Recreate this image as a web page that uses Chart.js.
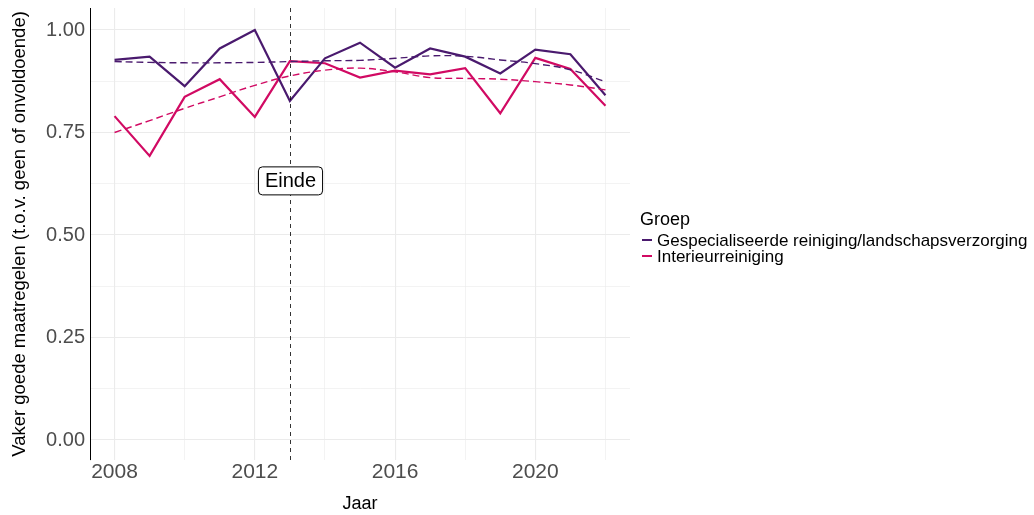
<!DOCTYPE html>
<html>
<head>
<meta charset="utf-8">
<script src="https://cdn.jsdelivr.net/npm/chart.js@4/dist/chart.umd.min.js"></script>
<style>
    html, body { margin: 0; padding: 0; background: #fff; }
    #wrap { width: 1034px; height: 515px; position: relative; }
</style>
</head>
<body>
<div id="wrap"><canvas id="trendChart" width="1034" height="515"></canvas></div>
<script>
// Data
const years = [2008, 2009, 2010, 2011, 2012, 2013, 2014, 2015, 2016, 2017, 2018, 2019, 2020, 2021, 2022];
const groups = ['Gespecialiseerde reiniging/landschapsverzorging', 'Interieurreiniging'];
const specialValues = [0.927, 0.935, 0.863, 0.955, 1.000, 0.827, 0.931, 0.969, 0.908, 0.955, 0.935, 0.894, 0.952, 0.941, 0.841];
const interiorValues = [0.790, 0.693, 0.837, 0.880, 0.788, 0.924, 0.919, 0.884, 0.901, 0.892, 0.907, 0.797, 0.932, 0.905, 0.815];
const specialTrend = [0.923, 0.921, 0.920, 0.920, 0.921, 0.923, 0.925, 0.926, 0.931, 0.937, 0.936, 0.927, 0.918, 0.903, 0.874];
const interiorTrend = [0.750, 0.779, 0.809, 0.837, 0.865, 0.888, 0.902, 0.907, 0.898, 0.884, 0.882, 0.880, 0.874, 0.866, 0.854];
const yTicks = [0, 0.25, 0.5, 0.75, 1];
const xTicks = [2008, 2012, 2016, 2020];
const endYear = 2013;
const endLabel = 'Einde';

// Colours
const purple = '#4a1a6e';
const pink = '#d10a63';
const fontFamily = '"Liberation Sans", Arial, sans-serif';

const toPoints = (vals) => vals.map((v, i) => ({ x: years[i], y: v }));

// Vertical line + label + legend
const extrasPlugin = {
    id: 'extras',
    afterDatasetsDraw(chart) {
        const { ctx, scales: { x, y } } = chart;
        const px = Math.round(x.getPixelForValue(endYear)) + 0.5;
        ctx.save();
        ctx.strokeStyle = '#000';
        ctx.lineWidth = 0.8;
        ctx.setLineDash([4, 4]);
        ctx.beginPath();
        ctx.moveTo(px, chart.chartArea.top);
        ctx.lineTo(px, chart.chartArea.bottom);
        ctx.stroke();
        ctx.setLineDash([]);

        // label box
        const ly = y.getPixelForValue(0.632);
        ctx.font = '20px ' + fontFamily;
        const tw = ctx.measureText(endLabel).width;
        const bw = tw + 13, bh = 28;
        const bx = px - bw / 2, by = ly - bh / 2;
        ctx.fillStyle = '#fff';
        ctx.strokeStyle = '#000';
        ctx.lineWidth = 1;
        ctx.beginPath();
        ctx.roundRect(bx, by, bw, bh, 4);
        ctx.fill();
        ctx.stroke();
        ctx.fillStyle = '#000';
        ctx.textAlign = 'center';
        ctx.textBaseline = 'middle';
        ctx.fillText(endLabel, px, ly + 1);

        // legend
        ctx.textAlign = 'left';
        ctx.textBaseline = 'alphabetic';
        ctx.font = '18px ' + fontFamily;
        ctx.fillText('Groep', 640, 225);
        ctx.font = '17px ' + fontFamily;
        [purple, pink].forEach((c, i) => {
            const yy = 240 + i * 16;
            ctx.strokeStyle = c;
            ctx.lineWidth = 2;
            ctx.beginPath();
            ctx.moveTo(642, yy);
            ctx.lineTo(652, yy);
            ctx.stroke();
            ctx.fillStyle = '#000';
            ctx.fillText(groups[i], 657, yy + 5.5);
        });
        ctx.restore();
    }
};

const ctx = document.getElementById('trendChart').getContext('2d');
const trendChart = new Chart(ctx, {
    type: 'line',
    data: {
        datasets: [
            {
                label: groups[0] + ' trend',
                data: toPoints(specialTrend),
                borderColor: purple,
                borderWidth: 1.4,
                borderDash: [7, 4],
                pointRadius: 0,
                tension: 0.4,
                fill: false
            },
            {
                label: groups[1] + ' trend',
                data: toPoints(interiorTrend),
                borderColor: pink,
                borderWidth: 1.4,
                borderDash: [7, 4],
                pointRadius: 0,
                tension: 0.4,
                fill: false
            },
            {
                label: groups[0],
                data: toPoints(specialValues),
                borderColor: purple,
                borderWidth: 2.2,
                pointRadius: 0,
                tension: 0,
                fill: false
            },
            {
                label: groups[1],
                data: toPoints(interiorValues),
                borderColor: pink,
                borderWidth: 2.2,
                pointRadius: 0,
                tension: 0,
                fill: false
            }
        ]
    },
    options: {
        responsive: false,
        animation: false,
        events: [],
        layout: { padding: { top: 8, right: 404, left: 0, bottom: 0 } },
        plugins: {
            legend: { display: false },
            tooltip: { enabled: false }
        },
        scales: {
            x: {
                type: 'linear',
                min: 2007.3,
                max: 2022.7,
                afterFit(scale) {
                    scale.height = 55;
                    scale.paddingLeft = 0;
                    scale.paddingRight = 0;
                },
                afterBuildTicks(scale) {
                    const t = [];
                    for (let yr = 2008; yr <= 2022; yr += 2) t.push({ value: yr });
                    scale.ticks = t;
                },
                grid: {
                    drawTicks: false,
                    color: '#ebebeb',
                    lineWidth: (c) => xTicks.includes(c.tick && c.tick.value) ? 1.1 : 0.6
                },
                border: { display: false },
                ticks: {
                    padding: 0,
                    color: '#4d4d4d',
                    font: { size: 21, family: fontFamily },
                    maxRotation: 0,
                    autoSkip: false,
                    callback: (v) => xTicks.includes(v) ? String(v) : ''
                },
                title: {
                    display: true,
                    text: 'Jaar',
                    color: '#000',
                    font: { size: 18, family: fontFamily },
                    padding: { top: 8, bottom: 0 }
                }
            },
            y: {
                type: 'linear',
                min: -0.0488,
                max: 1.0537,
                afterFit(scale) {
                    scale.width = 90;
                    scale.paddingTop = 0;
                    scale.paddingBottom = 0;
                },
                afterBuildTicks(scale) {
                    const t = [];
                    for (let k = 0; k <= 8; k++) t.push({ value: k * 0.125 });
                    scale.ticks = t;
                },
                grid: {
                    drawTicks: false,
                    color: '#ebebeb',
                    lineWidth: (c) => yTicks.some(v => Math.abs(v - (c.tick ? c.tick.value : -1)) < 1e-6) ? 1.1 : 0.6
                },
                border: { display: true, color: '#000', width: 1 },
                ticks: {
                    padding: 5,
                    color: '#4d4d4d',
                    font: { size: 20, family: fontFamily },
                    autoSkip: false,
                    callback: (v) => yTicks.some(t => Math.abs(t - v) < 1e-6) ? v.toFixed(2) : ''
                },
                title: {
                    display: true,
                    text: 'Vaker goede maatregelen (t.o.v. geen of onvoldoende)',
                    color: '#000',
                    font: { size: 18.5, family: fontFamily },
                    padding: { top: 9, bottom: 0 }
                }
            }
        }
    },
    plugins: [extrasPlugin]
});
</script>
</body>
</html>
